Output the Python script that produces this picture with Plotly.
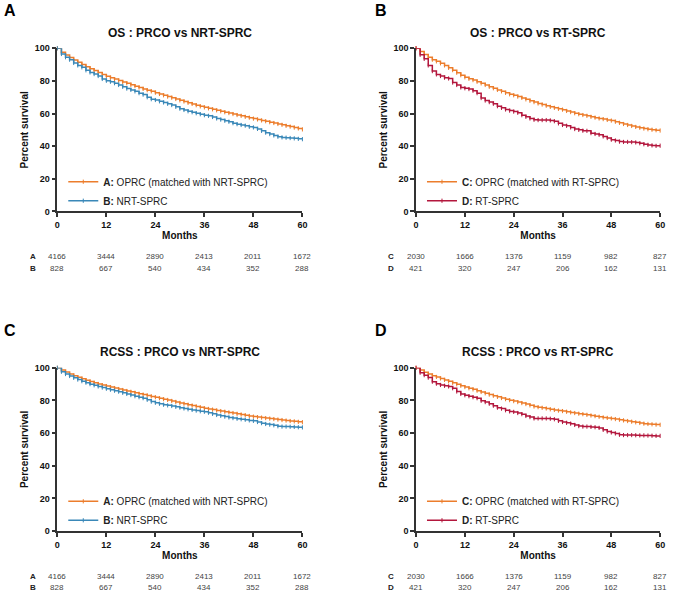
import plotly.graph_objects as go

# months 0..60, monthly steps
months = list(range(61))

os_oprc_nrt = [100, 97.6, 95.9, 94.3, 92.8, 91.4, 90.0, 88.7, 87.5, 86.3, 85.1, 84.0, 82.9,
               82.0, 81.1, 80.2, 79.3, 78.5, 77.6, 76.8, 76.0, 75.1, 74.3, 73.6, 72.8,
               72.0, 71.2, 70.4, 69.7, 68.9, 68.1, 67.4, 66.6, 65.9, 65.1, 64.4, 63.8,
               63.2, 62.6, 62.0, 61.4, 60.8, 60.3, 59.7, 59.1, 58.6, 58.0, 57.5, 56.9,
               56.4, 55.8, 55.3, 54.7, 54.2, 53.6, 53.1, 52.5, 52.0, 51.4, 50.9, 50.3]
os_nrt = [100, 96.5, 94.5, 93.0, 91.0, 89.5, 88.3, 86.5, 85.2, 84.2, 83.0, 81.2, 80.1,
          79.5, 78.6, 77.5, 76.4, 75.3, 74.5, 73.6, 72.5, 71.6, 70.0, 68.8, 68.3,
          67.5, 66.8, 66.0, 65.2, 64.1, 63.0, 62.2, 61.4, 60.8, 60.2, 59.6, 59.0,
          58.6, 57.9, 57.0, 56.3, 55.6, 55.0, 54.1, 53.5, 53.0, 52.6, 51.9, 51.5,
          50.6, 49.4, 48.3, 47.4, 46.6, 45.8, 45.4, 45.2, 45.0, 44.8, 44.5, 44.3]
os_oprc_rt = [100, 98.0, 96.2, 94.5, 93.0, 92.0, 90.8, 89.5, 88.0, 86.6, 85.0, 83.5, 82.2,
              81.3, 80.5, 79.5, 78.5, 77.5, 76.4, 75.5, 74.5, 73.6, 72.7, 71.8, 71.2,
              70.4, 69.6, 68.7, 67.8, 67.0, 66.2, 65.5, 64.8, 64.1, 63.5, 62.9, 62.4,
              61.6, 60.9, 60.2, 59.6, 59.1, 58.6, 58.0, 57.5, 57.0, 56.6, 56.1, 55.7,
              55.0, 54.3, 53.6, 53.0, 52.4, 51.8, 51.3, 50.8, 50.4, 50.1, 49.8, 49.6]
os_rt = [100, 96.0, 93.5, 89.5, 86.0, 84.0, 83.0, 82.0, 81.5, 79.0, 77.5, 76.0, 75.5,
         75.0, 74.0, 72.5, 69.5, 68.0, 67.0, 66.0, 64.5, 63.5, 62.5, 61.8, 61.2,
         60.5, 59.0, 58.0, 57.0, 56.2, 56.0, 56.0, 56.0, 55.8, 55.3, 54.0, 53.0,
         52.5, 51.5, 50.5, 50.0, 49.5, 49.4, 48.0, 47.5, 47.0, 46.0, 45.0, 44.0,
         43.5, 42.8, 42.6, 42.6, 42.5, 42.3, 41.8, 41.2, 40.8, 40.5, 40.2, 40.3]
rcss_oprc_nrt = [100, 98.6, 97.4, 96.2, 95.2, 94.2, 93.3, 92.4, 91.6, 90.8, 90.1, 89.4, 88.8,
                 88.2, 87.6, 87.0, 86.4, 85.8, 85.3, 84.7, 84.1, 83.6, 83.1, 82.5, 82.0,
                 81.4, 80.8, 80.3, 79.7, 79.1, 78.5, 78.0, 77.4, 76.9, 76.3, 75.8, 75.2,
                 74.8, 74.4, 73.9, 73.5, 73.1, 72.7, 72.3, 71.8, 71.4, 71.0, 70.5, 70.1,
                 69.8, 69.5, 69.2, 68.9, 68.6, 68.3, 68.0, 67.7, 67.4, 67.2, 66.9, 66.7]
rcss_nrt = [100, 97.6, 96.2, 95.0, 93.9, 92.8, 91.8, 90.9, 90.0, 89.3, 88.6, 87.9, 87.2,
            86.6, 86.0, 85.4, 84.7, 84.0, 83.3, 82.6, 82.0, 81.4, 80.4, 79.3, 78.6,
            78.0, 77.4, 77.0, 76.6, 76.1, 75.6, 75.1, 74.6, 74.2, 73.8, 73.4, 73.1,
            72.5, 71.8, 71.1, 70.6, 70.1, 69.6, 69.2, 68.8, 68.5, 68.2, 67.8, 67.5,
            66.8, 66.1, 65.6, 65.2, 64.8, 64.2, 64.0, 64.0, 63.9, 63.8, 63.6, 63.5]
rcss_oprc_rt = [100, 98.6, 97.3, 96.2, 95.2, 94.4, 93.5, 92.6, 91.7, 90.8, 89.9, 89.0, 88.2,
                87.5, 86.8, 86.0, 85.2, 84.4, 83.6, 82.9, 82.2, 81.5, 80.8, 80.2, 79.6,
                79.0, 78.4, 77.8, 77.0, 76.3, 75.9, 75.5, 75.1, 74.6, 74.2, 73.8, 73.5,
                73.1, 72.7, 72.3, 71.9, 71.6, 71.2, 70.8, 70.4, 70.0, 69.6, 69.3, 69.0,
                68.6, 68.2, 67.8, 67.4, 67.0, 66.6, 66.2, 65.8, 65.6, 65.4, 65.2, 65.1]
rcss_rt = [100, 97.0, 95.5, 94.0, 91.5, 90.3, 89.5, 89.0, 88.6, 87.5, 85.5, 84.0, 83.2,
           82.6, 82.0, 81.4, 79.8, 79.0, 78.0, 76.8, 75.6, 75.0, 74.0, 73.3, 73.0,
           72.3, 71.6, 70.5, 69.8, 69.0, 69.0, 69.0, 69.0, 68.8, 68.5, 67.5, 66.8,
           66.3, 65.8, 65.0, 64.3, 64.0, 64.0, 63.8, 63.6, 63.2, 62.0, 61.0, 60.4,
           59.8, 59.0, 58.8, 58.8, 58.8, 58.7, 58.6, 58.6, 58.5, 58.4, 58.3, 58.3]

risk_months = [0, 12, 24, 36, 48, 60]
risk_a = [4166, 3444, 2890, 2413, 2011, 1672]
risk_b = [828, 667, 540, 434, 352, 288]
risk_c = [2030, 1666, 1376, 1159, 982, 827]
risk_d = [421, 320, 247, 206, 162, 131]

titles = ["OS : PRCO vs NRT-SPRC", "OS : PRCO vs RT-SPRC",
          "RCSS : PRCO vs NRT-SPRC", "RCSS : PRCO vs RT-SPRC"]
panel_letters = ["A", "B", "C", "D"]

ORANGE = "#EC7D2C"
BLUE = "#3A88B8"
RED = "#B3173D"
AX = "#333333"
FONT = "Liberation Sans"

W, H = 677, 597


def px_x(p):
    return p / W


def px_y(p):
    return 1 - p / H


# plot areas in pixels: (left, right, top, bottom)
boxes = [(55, 303, 44, 210), (418, 665, 44, 210),
         (55, 303, 369, 535), (418, 665, 369, 535)]

panels = [
    (os_oprc_nrt, os_nrt, "A", "B", "OPRC (matched with NRT-SPRC)", "NRT-SPRC", BLUE, risk_a, risk_b),
    (os_oprc_rt, os_rt, "C", "D", "OPRC (matched with RT-SPRC)", "RT-SPRC", RED, risk_c, risk_d),
    (rcss_oprc_nrt, rcss_nrt, "A", "B", "OPRC (matched with NRT-SPRC)", "NRT-SPRC", BLUE, risk_a, risk_b),
    (rcss_oprc_rt, rcss_rt, "C", "D", "OPRC (matched with RT-SPRC)", "RT-SPRC", RED, risk_c, risk_d),
]

fig = go.Figure()
annotations = []
layout = {}

for i, (s1, s2, k1, k2, n1, n2, col2, r1, r2) in enumerate(panels):
    sfx = "" if i == 0 else str(i + 1)
    xa, ya = "x" + sfx, "y" + sfx
    leg = "legend" + sfx
    left, right, top, bottom = boxes[i]

    for vals, key, name, col in [(s1, k1, n1, ORANGE), (s2, k2, n2, col2)]:
        fig.add_trace(go.Scatter(
            x=months, y=vals, xaxis=xa, yaxis=ya, legend=leg,
            mode="lines+markers", line=dict(shape="hv", color=col, width=1.5),
            marker=dict(symbol="line-ns", size=3, line=dict(color=col, width=1)),
            name=f"<b>{key}:</b> {name}", cliponaxis=False,
        ))

    layout["xaxis" + sfx] = dict(
        domain=[px_x(left), px_x(right)], anchor=ya, range=[0, 60],
        tickvals=risk_months, ticks="outside", ticklen=4, tickwidth=1.5, tickcolor=AX,
        showline=True, linecolor=AX, linewidth=1.5, showgrid=False, zeroline=False,
        tickfont=dict(family=FONT, size=9, color="#111", weight="bold"),
        title=dict(text="Months", standoff=3,
                   font=dict(family=FONT, size=10, color="#111", weight="bold")),
    )
    layout["yaxis" + sfx] = dict(
        domain=[px_y(bottom), px_y(top)], anchor=xa, range=[0, 100],
        tickvals=[0, 20, 40, 60, 80, 100], ticks="outside", ticklen=4, tickwidth=1.5,
        tickcolor=AX, showline=True, linecolor=AX, linewidth=1.5, showgrid=False,
        zeroline=False,
        tickfont=dict(family=FONT, size=9, color="#111", weight="bold"),
        title=dict(text="Percent survival", standoff=4,
                   font=dict(family=FONT, size=10, color="#111", weight="bold")),
    )
    layout[leg] = dict(
        x=px_x(left + 6), y=px_y(top + 121), xanchor="left", yanchor="top",
        bgcolor="rgba(0,0,0,0)", tracegroupgap=0,
        font=dict(family=FONT, size=10, color="#222"),
    )

    # title and panel letter
    annotations.append(dict(
        text=f"<b>{titles[i]}</b>", xref="paper", yref="paper",
        x=px_x((left + right) / 2), y=px_y(top - 16), showarrow=False,
        xanchor="center", yanchor="middle",
        font=dict(family=FONT, size=12, color="#111"),
    ))
    annotations.append(dict(
        text=f"<b>{panel_letters[i]}</b>", xref="paper", yref="paper",
        x=px_x(left - 56 if i % 2 == 0 else left - 44), y=px_y(top - 38), showarrow=False,
        xanchor="left", yanchor="middle",
        font=dict(family=FONT, size=16, color="#000"),
    ))

    # numbers at risk
    for row, (key, risk) in enumerate([(k1, r1), (k2, r2)]):
        ypos = px_y(bottom + 46 + row * 11.5)
        annotations.append(dict(
            text=f"<b>{key}</b>", xref="paper", yref="paper", x=px_x(left - 25), y=ypos,
            showarrow=False, xanchor="center", yanchor="middle",
            font=dict(family=FONT, size=8, color="#222"),
        ))
        for m, n in zip(risk_months, risk):
            annotations.append(dict(
                text=str(n), xref=xa, yref="paper", x=m, y=ypos,
                showarrow=False, xanchor="center", yanchor="middle",
                font=dict(family=FONT, size=8, color="#444"),
            ))

fig.update_layout(
    width=W, height=H, margin=dict(l=0, r=0, t=0, b=0),
    paper_bgcolor="white", plot_bgcolor="white",
    annotations=annotations, **layout,
)

fig.write_html("out.html", config={"displayModeBar": False},
               post_script="document.body.style.margin='0';")
